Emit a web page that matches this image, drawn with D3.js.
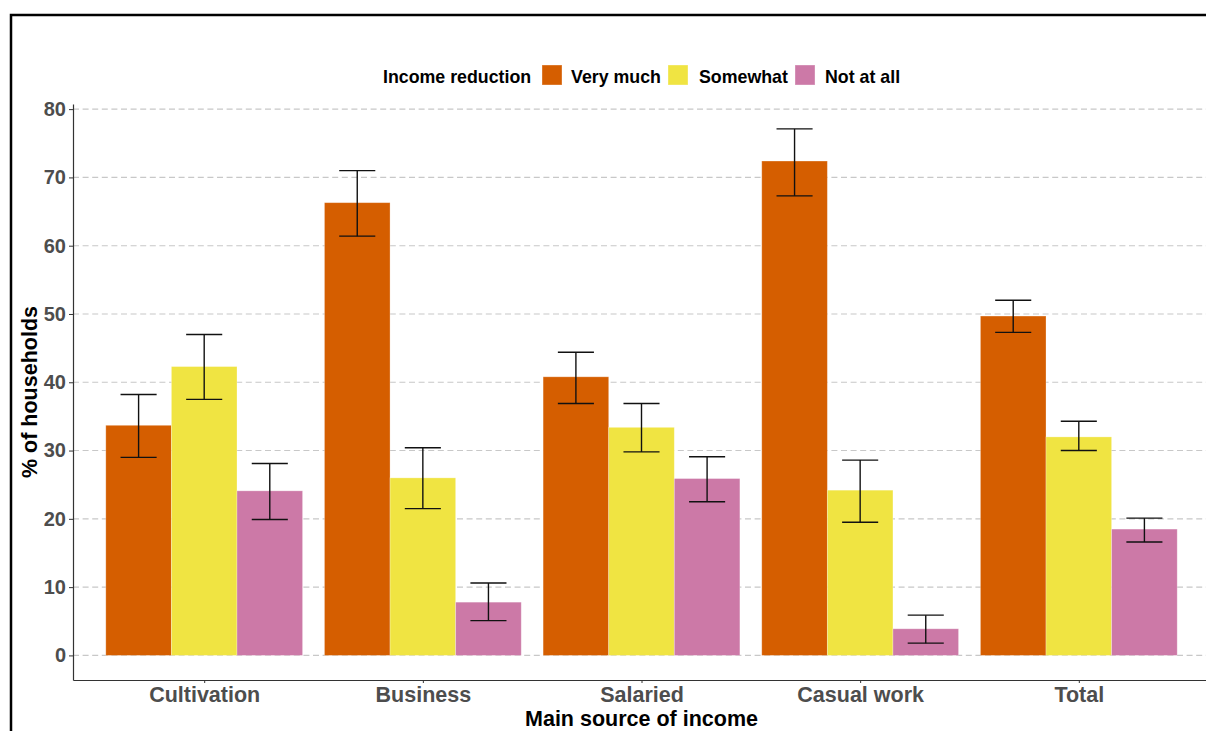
<!DOCTYPE html>
<html>
<head>
<meta charset="utf-8">
<script src="https://cdn.jsdelivr.net/npm/d3@7"></script>
<style>
  body { margin: 0; background: #fff; }
  svg text { font-family: "Liberation Sans", Arial, sans-serif; font-weight: bold; }
</style>
</head>
<body>
<div id="chart"></div>
<script>
// data
const categories = ["Cultivation", "Business", "Salaried", "Casual work", "Total"];
const seriesNames = ["Very much", "Somewhat", "Not at all"];
const veryMuch = [33.7, 66.3, 40.8, 72.4, 49.7];
const veryMuchLo = [29.0, 61.4, 36.9, 67.3, 47.3];
const veryMuchHi = [38.2, 71.0, 44.4, 77.1, 52.0];
const somewhat = [42.3, 26.0, 33.4, 24.2, 32.0];
const somewhatLo = [37.5, 21.5, 29.8, 19.5, 30.0];
const somewhatHi = [47.0, 30.4, 36.9, 28.6, 34.3];
const notAtAll = [24.1, 7.8, 25.9, 3.9, 18.5];
const notAtAllLo = [19.9, 5.1, 22.5, 1.8, 16.6];
const notAtAllHi = [28.1, 10.6, 29.1, 5.9, 20.1];
const yTicks = [0, 10, 20, 30, 40, 50, 60, 70, 80];
const colors = ["#D55E00", "#F0E442", "#CC79A7"];

const width = 1206, height = 731;
const panel = {left: 73, right: 1210, top: 104, bottom: 680};

const svg = d3.select("#chart").append("svg")
  .attr("width", width)
  .attr("height", height);

// outer frame (cropped on the right and bottom)
svg.append("rect")
  .attr("x", 11).attr("y", 15)
  .attr("width", 1220).attr("height", 760)
  .attr("fill", "none").attr("stroke", "#000").attr("stroke-width", 2.5);

const y = d3.scaleLinear().domain([-3.6, 80.75]).range([panel.bottom, panel.top]);
const x = d3.scalePoint().domain(categories).range([panel.left, panel.right]).padding(0.6);
const step = x.step();
const inner = d3.scaleBand().domain(seriesNames).range([-step * 0.45, step * 0.45]);

// build rows
const rows = [];
const vals = [veryMuch, somewhat, notAtAll];
const los = [veryMuchLo, somewhatLo, notAtAllLo];
const his = [veryMuchHi, somewhatHi, notAtAllHi];
categories.forEach((c, i) => {
  seriesNames.forEach((s, j) => {
    rows.push({cat: c, series: s, value: vals[j][i], lo: los[j][i], hi: his[j][i], color: colors[j]});
  });
});

// gridlines
svg.append("g").selectAll("line")
  .data(yTicks).enter().append("line")
  .attr("x1", panel.left).attr("x2", width)
  .attr("y1", d => y(d)).attr("y2", d => y(d))
  .attr("stroke", "#c8c8c8").attr("stroke-width", 1.1)
  .attr("stroke-dasharray", "6,3.6");

// bars
svg.append("g").selectAll("rect")
  .data(rows).enter().append("rect")
  .attr("x", d => x(d.cat) + inner(d.series))
  .attr("y", d => y(d.value))
  .attr("width", inner.bandwidth())
  .attr("height", d => y(0) - y(d.value))
  .attr("fill", d => d.color)
  .attr("stroke", "#fff").attr("stroke-opacity", 0.35).attr("stroke-width", 0.8);

// error bars
const capW = inner.bandwidth() * 0.55;
const eb = svg.append("g").attr("stroke", "#111").attr("stroke-width", 1.4);
rows.forEach(d => {
  const cx = x(d.cat) + inner(d.series) + inner.bandwidth() / 2;
  eb.append("line").attr("x1", cx).attr("x2", cx).attr("y1", y(d.lo)).attr("y2", y(d.hi));
  eb.append("line").attr("x1", cx - capW / 2).attr("x2", cx + capW / 2).attr("y1", y(d.lo)).attr("y2", y(d.lo));
  eb.append("line").attr("x1", cx - capW / 2).attr("x2", cx + capW / 2).attr("y1", y(d.hi)).attr("y2", y(d.hi));
});

// y axis
const yAxis = svg.append("g")
  .attr("transform", `translate(${panel.left},0)`)
  .call(d3.axisLeft(y).tickValues(yTicks).tickSize(4).tickPadding(3).tickSizeOuter(0));
yAxis.select(".domain").attr("stroke", "#333").attr("stroke-width", 1.2);
yAxis.selectAll(".tick line").attr("stroke", "#333");
yAxis.selectAll("text").attr("font-size", "20px").attr("fill", "#4D4D4D")
  .attr("font-family", "Liberation Sans, Arial, sans-serif").attr("font-weight", "bold");

// x axis
const xAxis = svg.append("g")
  .attr("transform", `translate(0,${panel.bottom})`)
  .call(d3.axisBottom(x).tickSize(3).tickPadding(4).tickSizeOuter(0));
xAxis.select(".domain").attr("stroke", "#333").attr("stroke-width", 1.2);
xAxis.selectAll(".tick line").attr("stroke", "#333");
xAxis.selectAll("text").attr("font-size", "21.5px").attr("fill", "#4D4D4D")
  .attr("font-family", "Liberation Sans, Arial, sans-serif").attr("font-weight", "bold");

// axis titles
svg.append("text")
  .attr("x", (panel.left + panel.right) / 2).attr("y", 726)
  .attr("text-anchor", "middle").attr("font-size", "21.5px").attr("fill", "#000")
  .text("Main source of income");

svg.append("text")
  .attr("transform", `translate(37,${(panel.top + panel.bottom) / 2}) rotate(-90)`)
  .attr("text-anchor", "middle").attr("font-size", "21.5px").attr("fill", "#000")
  .text("% of households");

// legend
const legend = svg.append("g");
legend.append("text").attr("x", 383).attr("y", 83)
  .attr("font-size", "17.8px").attr("fill", "#000").text("Income reduction");
const keyX = [542, 668, 795];
const labelX = [571, 699, 825];
seriesNames.forEach((s, j) => {
  legend.append("rect").attr("x", keyX[j]).attr("y", 65).attr("width", 20).attr("height", 20)
    .attr("fill", colors[j]).attr("stroke", "#fff").attr("stroke-opacity", 0.35);
  legend.append("text").attr("x", labelX[j]).attr("y", 83)
    .attr("font-size", "17.8px").attr("fill", "#000").text(s);
});
</script>
</body>
</html>
